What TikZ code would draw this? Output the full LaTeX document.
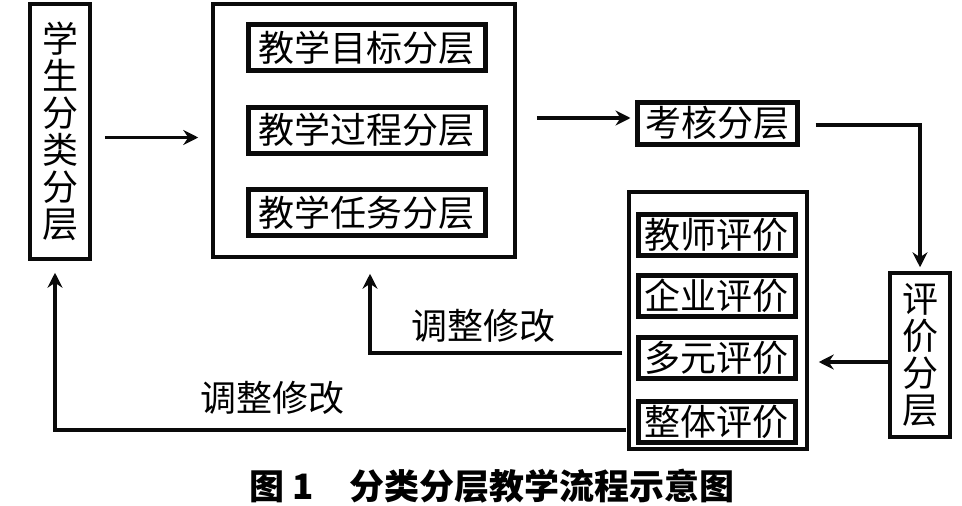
\documentclass[tikz,border=0pt]{standalone}
\usepackage{fontspec}
\usepackage{tikz}
\usetikzlibrary{arrows.meta, positioning, calc}
\newfontfamily\cjk{Noto Sans CJK SC}
\definecolor{lineblack}{RGB}{10,10,10}

\begin{document}
\begin{tikzpicture}[x=1pt,y=-1pt,
  outerbox/.style={draw=lineblack,line width=3.5pt,inner sep=0pt},
  innerbox/.style={draw=lineblack,line width=5pt,inner sep=0pt,minimum height=46pt},
  arr/.style={draw=lineblack,line width=3.5pt,-{Stealth[length=15pt,width=15pt,inset=5pt]}},
  every node/.style={font=\cjk\fontsize{36}{37}\selectfont}]
\useasboundingbox (0,0) rectangle (962,506);
% left column
\node[outerbox,minimum width=60pt,minimum height=255pt,align=center] (stu) at (60,131.5) {学\\生\\分\\类\\分\\层};
% teaching block
\node[outerbox,minimum width=302pt,minimum height=253pt] (mid) at (364,130.5) {};
\node[innerbox,minimum width=237pt] (t1) at (366.5,47.5) {教学目标分层};
\node[innerbox,minimum width=237pt] (t2) at (366.5,130) {教学过程分层};
\node[innerbox,minimum width=237pt] (t3) at (366.5,212.5) {教学任务分层};
% assessment
\node[innerbox,minimum width=160pt,minimum height=42pt] (kh) at (717,123) {考核分层};
\node[outerbox,minimum width=60pt,minimum height=164pt,align=center] (pj) at (920,355) {评\\价\\分\\层};
% evaluation block
\node[outerbox,minimum width=178pt,minimum height=257pt] (ev) at (718,320.5) {};
\node[innerbox,minimum width=157pt,minimum height=41pt] (e1) at (716.5,234.5) {教师评价};
\node[innerbox,minimum width=157pt,minimum height=41pt] (e2) at (716.5,295.5) {企业评价};
\node[innerbox,minimum width=157pt,minimum height=41pt] (e3) at (716.5,358) {多元评价};
\node[innerbox,minimum width=157pt,minimum height=41pt] (e4) at (716.5,421.5) {整体评价};
% feedback
\coordinate (f1) at (622,353);
\coordinate (f2) at (626,430);
\node (lab1) at (483,326) {调整修改};
\node (lab2) at (272,398) {调整修改};
% arrows
\draw[arr,shorten <=13pt,shorten >=13pt] ([yshift=-6pt]stu.east) -- ([yshift=-6pt]stu.east -| mid.west);
\draw[arr,shorten <=20pt,shorten >=4pt] ([yshift=5pt]kh.west -| mid.east) -- ([yshift=5pt]kh.west);
\draw[arr,shorten <=16pt,shorten >=4pt] ([yshift=-2pt]kh.east) -| (pj.north);
\draw[arr,shorten >=10pt] ([yshift=-7pt]pj.west) -- ([yshift=-7pt]pj.west -| ev.east);
\draw[arr,shorten >=15pt] (f1) -| ([xshift=6pt]mid.south);
\draw[arr,line width=4.5pt,shorten >=12pt] (f2) -| ([xshift=-5pt]stu.south);
% caption
\node[font=\cjk\bfseries\fontsize{35}{35}\selectfont] (cap) at (492,486) {图 1\quad 分类分层教学流程示意图};
\end{tikzpicture}
\end{document}
